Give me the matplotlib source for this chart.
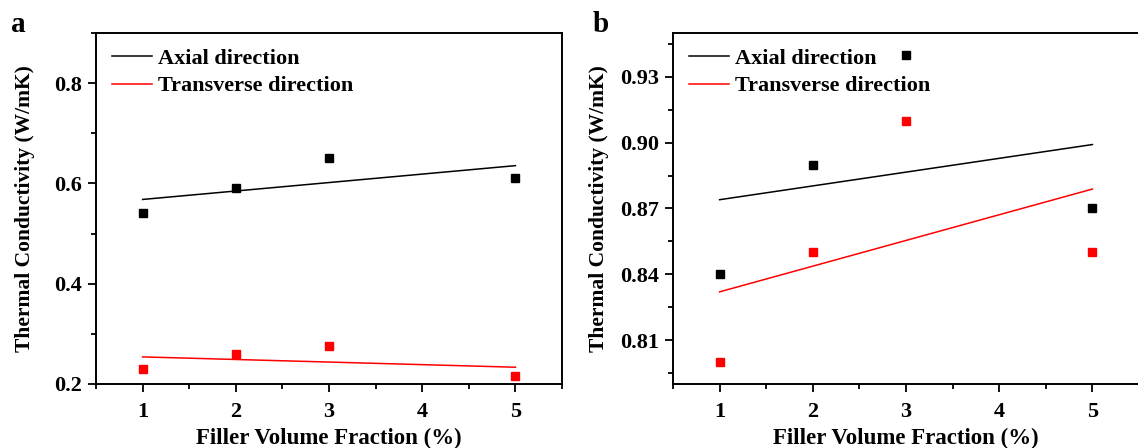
import numpy as np
import matplotlib.pyplot as plt
from matplotlib.ticker import MultipleLocator, FormatStrFormatter
from matplotlib.lines import Line2D

plt.rcParams['font.family'] = ['Liberation Serif', 'DejaVu Serif']
plt.rcParams['font.weight'] = 'bold'

# filler volume fraction (%)
filler = [1, 2, 3, 5]

# panel a
axial_a = [0.54, 0.59, 0.65, 0.61]
transverse_a = [0.23, 0.26, 0.275, 0.215]

# panel b
axial_b = [0.84, 0.89, 0.94, 0.87]
transverse_b = [0.80, 0.85, 0.91, 0.85]

fig = plt.figure(figsize=(11.38, 4.48), dpi=100)
ax_a = fig.add_axes([0.0844, 0.1429, 0.4095, 0.7835])
ax_b = fig.add_axes([0.5914, 0.1429, 0.4095, 0.7835])


def draw_panel(ax, axial, transverse, ypad):
    x = np.array(filler, dtype=float)
    for y, color in [(axial, 'black'), (transverse, 'red')]:
        ax.plot(x, y, 's', color=color, markersize=6, linestyle='none')
        # linear fit line
        k, b = np.polyfit(x, y, 1)
        ax.plot([x[0], x[-1]], [k * x[0] + b, k * x[-1] + b], color=color, lw=1.1)

    ax.set_xlim(0.5, 5.5)
    ax.xaxis.set_major_locator(MultipleLocator(1))
    ax.xaxis.set_minor_locator(MultipleLocator(0.5))
    ax.tick_params(which='both', direction='out', top=False, right=False, width=1.3,
                   labelsize=16, pad=4)
    ax.tick_params(axis='x', which='major', pad=7)
    ax.tick_params(which='major', length=6)
    ax.tick_params(which='minor', length=3.5)
    for s in ax.spines.values():
        s.set_linewidth(1.4)
    ax.set_xlabel('Filler Volume Fraction (%)', fontsize=16.5, fontweight='bold', labelpad=4)
    ax.set_ylabel('Thermal Conductivity (W/mK)', fontsize=15.5, fontweight='bold', labelpad=ypad)

    handles = [Line2D([], [], color='black', lw=1.1), Line2D([], [], color='red', lw=1.1)]
    ax.legend(handles, ['Axial direction', 'Transverse direction'], loc='upper left',
              frameon=False, handlelength=1.8, handletextpad=0.3,
              labelspacing=0.3, borderaxespad=0.3, prop={'weight': 'bold', 'size': 16})


draw_panel(ax_a, axial_a, transverse_a, 14)
ax_a.set_ylim(0.2, 0.9)
ax_a.yaxis.set_major_locator(MultipleLocator(0.2))
ax_a.yaxis.set_minor_locator(MultipleLocator(0.1))
ax_a.yaxis.set_major_formatter(FormatStrFormatter('%.1f'))

draw_panel(ax_b, axial_b, transverse_b, 8)
ax_b.set_ylim(0.79, 0.95)
ax_b.set_yticks([0.81, 0.84, 0.87, 0.90, 0.93])
ax_b.yaxis.set_minor_locator(MultipleLocator(0.015))
ax_b.yaxis.set_major_formatter(FormatStrFormatter('%.2f'))

fig.text(0.016, 0.945, 'a', fontsize=21, fontweight='bold', ha='center', va='center')
fig.text(0.528, 0.945, 'b', fontsize=21, fontweight='bold', ha='center', va='center')

fig.savefig('out.png', dpi=100)
